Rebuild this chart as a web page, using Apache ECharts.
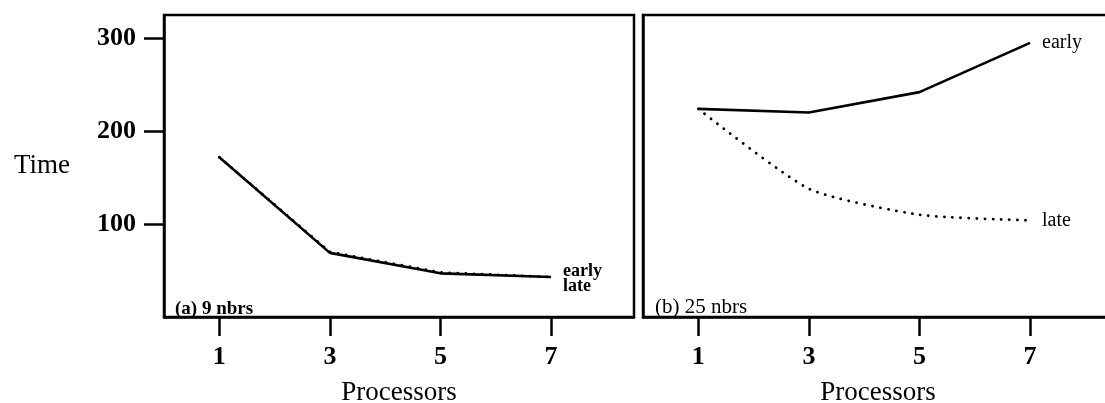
<!DOCTYPE html>
<html>
<head>
<meta charset="utf-8">
<script src="https://cdn.jsdelivr.net/npm/echarts@6/dist/echarts.min.js"></script>
<style>
  html, body { margin: 0; padding: 0; background: #fff; }
  #container { width: 1105px; height: 403px; }
</style>
</head>
<body>
<div id="container"></div>
<script>
var processors = [1, 3, 5, 7];
// (a) 9 nbrs
var earlyA = [172, 69, 47, 43];
var lateA = [172, 70, 48, 43];
// (b) 25 nbrs
var earlyB = [224, 220, 242, 295];
var lateB = [224, 138, 110, 104];
var xTicks = [1, 3, 5, 7];
var yTicks = [100, 200, 300];

var serif = '"Liberation Serif", "DejaVu Serif", serif';

function pairs(xs, ys) {
    var out = [];
    for (var i = 0; i < xs.length; i++) out.push([xs[i], ys[i]]);
    return out;
}

var dom = document.getElementById('container');
var myChart = echarts.init(dom);

function xAxisFor(idx) {
    return {
        gridIndex: idx,
        type: 'value',
        min: 0,
        max: 8.5,
        name: 'Processors',
        nameLocation: 'middle',
        nameGap: 62,
        nameTextStyle: { fontFamily: serif, fontSize: 27, color: '#000' },
        axisLine: { show: true, onZero: false, lineStyle: { color: '#000', width: 2.5 } },
        axisTick: { show: true, length: 19, customValues: xTicks, lineStyle: { color: '#000', width: 2.5 } },
        axisLabel: { customValues: xTicks, margin: 27, fontFamily: serif, fontWeight: 'bold', fontSize: 26, color: '#000' },
        splitLine: { show: false }
    };
}

var lineSolid = { color: '#000', width: 2.6 };
var lineDots = { color: '#000', width: 2.8, type: [0.1, 8], cap: 'round' };

function endLbl(offY, bold, size) {
    return {
        show: true,
        formatter: '{a}',
        distance: 12,
        offset: [0, offY],
        fontFamily: serif,
        fontWeight: bold ? 'bold' : 'normal',
        fontSize: size,
        color: '#000'
    };
}

var gridBase = { top: 15, width: 470, height: 302, show: true, borderColor: '#000', borderWidth: 2.5,
                 containLabel: false, outerBoundsMode: 'none' };

var option = {
    animation: false,
    backgroundColor: '#fff',
    grid: [
        Object.assign({ left: 164 }, gridBase),
        Object.assign({ left: 643 }, gridBase)
    ],
    title: [
        { text: '(a) 9 nbrs', left: 175, top: 300, padding: 0,
          textStyle: { fontFamily: serif, fontWeight: 'bold', fontSize: 19, color: '#000' } },
        { text: '(b) 25 nbrs', left: 655, top: 297, padding: 0,
          textStyle: { fontFamily: serif, fontWeight: 'normal', fontSize: 21, color: '#000' } }
    ],
    xAxis: [xAxisFor(0), xAxisFor(1)],
    yAxis: [
        {
            gridIndex: 0,
            type: 'value',
            min: 0,
            max: 325,
            name: 'Time',
            nameLocation: 'middle',
            nameRotate: 0,
            nameGap: 94,
            nameTextStyle: { fontFamily: serif, fontSize: 27, color: '#000' },
            axisLine: { show: true, lineStyle: { color: '#000', width: 2.5 } },
            axisTick: { show: true, length: 20, customValues: yTicks, lineStyle: { color: '#000', width: 2.5 } },
            axisLabel: { customValues: yTicks, margin: 28, fontFamily: serif, fontWeight: 'bold', fontSize: 26, color: '#000' },
            splitLine: { show: false }
        },
        {
            gridIndex: 1,
            type: 'value',
            min: 0,
            max: 325,
            axisLine: { show: true, lineStyle: { color: '#000', width: 2.5 } },
            axisTick: { show: false },
            axisLabel: { show: false },
            splitLine: { show: false }
        }
    ],
    series: [
        { name: 'late', type: 'line', xAxisIndex: 0, yAxisIndex: 0, data: pairs(processors, lateA),
          symbol: 'none', lineStyle: lineDots, endLabel: endLbl(9, true, 18) },
        { name: 'early', type: 'line', xAxisIndex: 0, yAxisIndex: 0, data: pairs(processors, earlyA),
          symbol: 'none', lineStyle: lineSolid, endLabel: endLbl(-6, true, 18) },
        { name: 'late', type: 'line', xAxisIndex: 1, yAxisIndex: 1, data: pairs(processors, lateB),
          symbol: 'none', smooth: 0.2, lineStyle: lineDots, endLabel: endLbl(0, false, 20) },
        { name: 'early', type: 'line', xAxisIndex: 1, yAxisIndex: 1, data: pairs(processors, earlyB),
          symbol: 'none', lineStyle: lineSolid, endLabel: endLbl(0, false, 20) }
    ]
};

myChart.setOption(option);
</script>
</body>
</html>
